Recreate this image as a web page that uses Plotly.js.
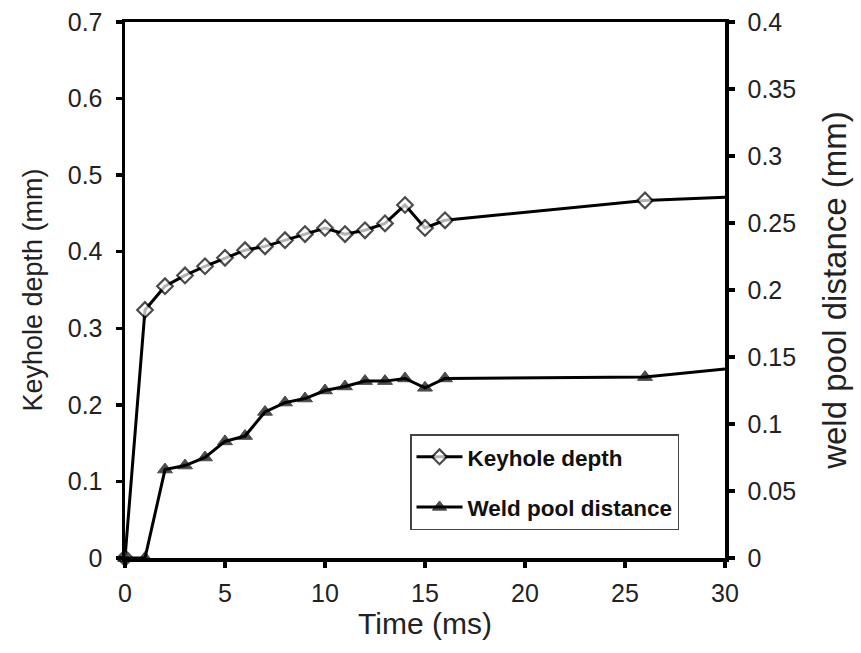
<!DOCTYPE html>
<html>
<head>
<meta charset="utf-8">
<script src="https://cdn.plot.ly/plotly-3.0.1.min.js"></script>
<style>html,body{margin:0;padding:0;background:#fff;}#chart{width:861px;height:653px;}</style>
</head>
<body>
<div id="chart"></div>
<script>
const timeKeyhole = [0, 1, 2, 3, 4, 5, 6, 7, 8, 9, 10, 11, 12, 13, 14, 15, 16, 26, 30];
const keyholeDepth = [0, 0.324, 0.355, 0.369, 0.381, 0.392, 0.402, 0.407, 0.415, 0.423, 0.431, 0.423, 0.428, 0.437, 0.461, 0.431, 0.441, 0.467, 0.471];
const timeWeld = [0, 1, 2, 3, 4, 5, 6, 7, 8, 9, 10, 11, 12, 13, 14, 15, 16, 26, 30];
const weldPoolDistance = [0, 0, 0.066, 0.069, 0.075, 0.087, 0.091, 0.109, 0.116, 0.119, 0.125, 0.128, 0.132, 0.132, 0.134, 0.127, 0.134, 0.135, 0.141];
const seriesNames = ["Keyhole depth", "Weld pool distance"];

const font = "Liberation Sans, Arial, sans-serif";
const markerSizes = timeKeyhole.map((t, i) => i === timeKeyhole.length - 1 ? 0 : 12);
const markerSizesW = timeWeld.map((t, i) => i === timeWeld.length - 1 ? 0 : 13);

const traces = [
  {
    x: timeKeyhole, y: keyholeDepth, name: seriesNames[0], legendgroup: "a",
    type: "scatter", mode: "lines+markers", cliponaxis: false,
    line: {color: "#000", width: 3},
    marker: {symbol: "diamond", size: markerSizes, color: "#fff", line: {color: "#000", width: 2.2}}
  },
  {
    x: timeWeld, y: weldPoolDistance, name: seriesNames[1], yaxis: "y2", legendgroup: "b",
    type: "scatter", mode: "lines+markers", cliponaxis: false,
    line: {color: "#000", width: 3},
    marker: {symbol: "triangle-up", size: markerSizesW, color: "#000", line: {color: "#000", width: 1}}
  }
];

const axisCommon = {
  showline: true, linecolor: "#000", linewidth: 3.5,
  ticks: "outside", ticklen: 6, tickwidth: 3.5, tickcolor: "#000",
  showgrid: false, zeroline: false,
  tickfont: {family: font, size: 25, color: "#222"}
};

const layout = {
  width: 861, height: 653,
  margin: {l: 125, r: 136, t: 22, b: 95},
  paper_bgcolor: "#fff", plot_bgcolor: "#fff",
  showlegend: true,
  legend: {
    x: 0.475, y: 0.231, xanchor: "left", yanchor: "top",
    bgcolor: "#fff", bordercolor: "#444", borderwidth: 1.5,
    font: {family: font, size: 22.5, color: "#111", weight: "bold"},
    traceorder: "grouped", tracegroupgap: 18, itemwidth: 46
  },
  xaxis: Object.assign({}, axisCommon, {
    range: [0, 30], dtick: 5, tick0: 0, mirror: true, ticklabelstandoff: 4,
    title: {text: "Time (ms)", font: {family: font, size: 30, color: "#222"}, standoff: 6}
  }),
  yaxis: Object.assign({}, axisCommon, {
    range: [0, 0.7], dtick: 0.1, tick0: 0, ticklabelstandoff: 8,
    title: {text: "Keyhole depth (mm)", font: {family: font, size: 27, color: "#222"}, standoff: 18}
  }),
  yaxis2: Object.assign({}, axisCommon, {
    range: [0, 0.4], dtick: 0.05, tick0: 0, ticklabelstandoff: 8,
    overlaying: "y", side: "right",
    title: {text: "weld pool distance (mm)", font: {family: font, size: 33, color: "#222"}, standoff: 28}
  })
};

Plotly.newPlot("chart", traces, layout, {displayModeBar: false, staticPlot: true});
</script>
</body>
</html>
